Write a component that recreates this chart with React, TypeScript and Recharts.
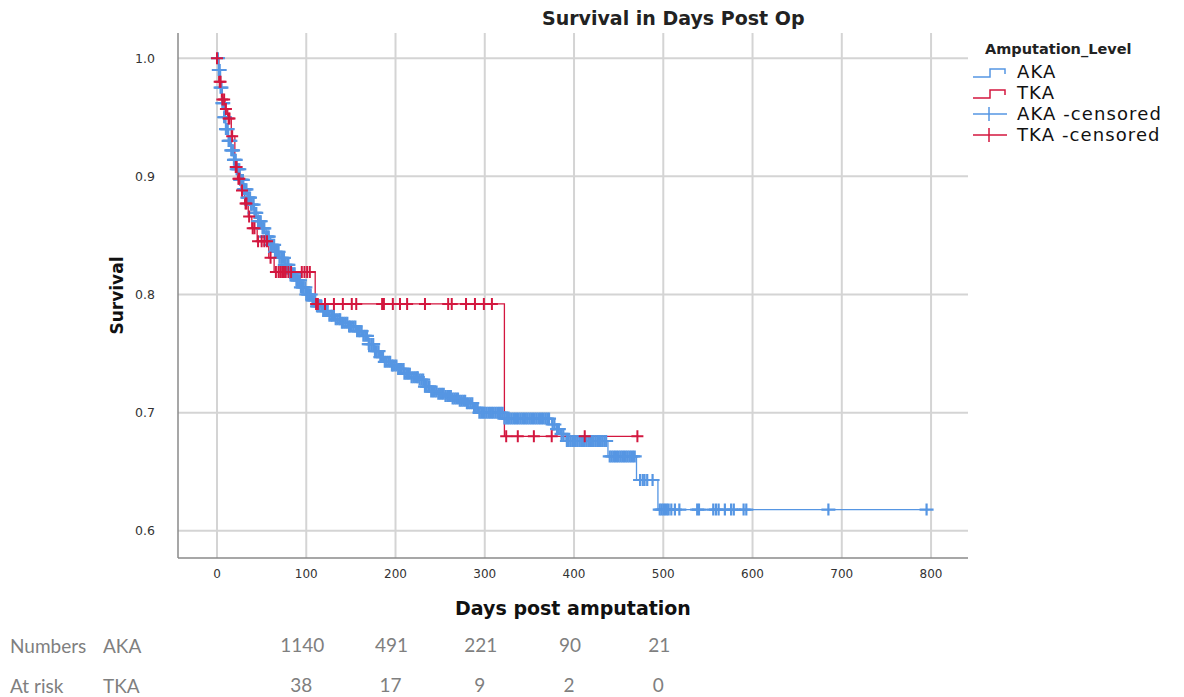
import React from "react";
import {
  ComposedChart,
  Line,
  ReferenceLine,
  Scatter,
  XAxis,
  YAxis,
} from "recharts";

// Kaplan-Meier step points
const AKA_TIMES = [
  0, 2, 4, 6, 8, 10, 13, 16, 19, 22, 26, 30, 34, 38, 42, 46, 50, 55, 60, 65, 70,
  76, 82, 88, 94, 100, 106, 112, 118, 125, 132, 140, 148, 156, 163, 170, 176,
  182, 188, 195, 202, 210, 218, 226, 233, 240, 248, 256, 264, 272, 280, 287,
  293, 322, 375, 380, 385, 390, 438, 470, 494, 798,
];
const AKA_SURVIVAL = [
  1.0, 0.99, 0.975, 0.962, 0.95, 0.94, 0.93, 0.922, 0.914, 0.906, 0.897, 0.889,
  0.882, 0.876, 0.869, 0.862, 0.856, 0.849, 0.842, 0.836, 0.831, 0.825, 0.818,
  0.812, 0.806, 0.8, 0.795, 0.79, 0.786, 0.782, 0.779, 0.776, 0.773, 0.769,
  0.765, 0.758, 0.752, 0.747, 0.743, 0.74, 0.737, 0.733, 0.73, 0.728, 0.722,
  0.718, 0.716, 0.714, 0.712, 0.71, 0.708, 0.704, 0.7, 0.695, 0.69, 0.686,
  0.682, 0.676, 0.663, 0.643, 0.618, 0.618,
];
const TKA_TIMES = [0, 2, 5, 9, 12, 16, 20, 23, 27, 31, 35, 39, 45, 58, 64, 110, 322, 472];
const TKA_SURVIVAL = [
  1.0, 0.98, 0.965, 0.957, 0.949, 0.934, 0.908, 0.898, 0.888, 0.877, 0.866,
  0.856, 0.845, 0.831, 0.819, 0.792, 0.68, 0.68,
];

// censoring times
const AKA_CENSORED = [
  1, 2, 3, 4, 5, 6, 7, 8, 9, 10, 11, 12, 13, 14, 15, 16, 17, 18, 19, 20, 21, 22,
  23, 24, 25, 26, 27, 28, 29, 30, 31, 32, 33, 34, 35, 36, 37, 38, 39, 41, 42,
  43, 44, 46, 47, 48, 49, 51, 52, 53, 55, 56, 57, 58, 60, 61, 62, 64, 65, 66,
  68, 69, 70, 72, 73, 75, 76, 77, 79, 80, 82, 83, 84, 86, 87, 89, 90, 91, 93,
  94, 96, 97, 99, 100, 102, 103, 105, 107, 108, 110, 112, 113, 115, 117, 119,
  120, 122, 124, 126, 128, 129, 131, 133, 135, 137, 138, 140, 142, 144, 146,
  148, 149, 151, 153, 155, 157, 159, 160, 162, 164, 166, 168, 170, 171, 173,
  175, 177, 179, 181, 183, 184, 186, 188, 190, 192, 194, 196, 197, 199, 201,
  203, 205, 207, 209, 210, 212, 214, 216, 218, 220, 222, 224, 225, 227, 229,
  231, 233, 235, 237, 238, 240, 242, 244, 246, 248, 250, 252, 254, 256, 258,
  260, 262, 264, 266, 268, 270, 272, 274, 276, 278, 280, 282, 284, 286, 288,
  290, 292, 294, 296, 298, 300, 302, 304, 306, 308, 310, 312, 314, 316, 318,
  320, 322, 324, 326, 328, 330, 332, 334, 336, 338, 340, 342, 344, 346, 348,
  350, 352, 354, 356, 358, 360, 362, 364, 366, 368, 370, 372, 376, 378, 381,
  383, 386, 388, 392, 394, 396, 398, 400, 402, 404, 406, 408, 410, 412, 414,
  416, 418, 420, 422, 424, 426, 428, 430, 432, 434, 436, 440, 442, 444, 446,
  448, 450, 452, 454, 456, 458, 460, 462, 464, 466, 468, 474, 477, 479, 482,
  488, 496, 498, 500, 502, 504, 506, 509, 513, 518, 538, 540, 556, 559, 562,
  569, 576, 579, 590, 593, 685, 795,
];
const TKA_CENSORED = [
  0, 3, 4, 6, 8, 10, 13, 14, 17, 21, 22, 24, 25, 28, 32, 33, 36, 40, 42, 46,
  50, 53, 56, 60, 66, 69, 71, 73, 75, 77, 80, 83, 95, 98, 101, 104, 111, 113,
  121, 131, 141, 151, 156, 185, 187, 197, 205, 213, 233, 259, 263, 279, 289,
  299, 308, 324, 337, 355, 375, 412, 471,
];

const X_TICKS = [0, 100, 200, 300, 400, 500, 600, 700, 800];
const Y_TICKS = [0.6, 0.7, 0.8, 0.9, 1.0];
const RISK_TICKS = [100, 200, 300, 400, 500];
const AKA_AT_RISK = [1140, 491, 221, 90, 21];
const TKA_AT_RISK = [38, 17, 9, 2, 0];

const AKA_COLOR = "#5696e3";
const TKA_COLOR = "#d3173f";
const X_DOMAIN = [-43.7, 841.4];

const stepAt = (times: number[], surv: number[], t: number) => {
  let v = surv[0];
  for (let i = 0; i < times.length; i++) if (times[i] <= t) v = surv[i];
  return v;
};

const akaCurve = AKA_TIMES.map((t, i) => ({ t, s: AKA_SURVIVAL[i] }));
const tkaCurve = TKA_TIMES.map((t, i) => ({ t, s: TKA_SURVIVAL[i] }));
const akaCensored = AKA_CENSORED.map((t) => ({ t, s: stepAt(AKA_TIMES, AKA_SURVIVAL, t) }));
const tkaCensored = TKA_CENSORED.map((t) => ({ t, s: stepAt(TKA_TIMES, TKA_SURVIVAL, t) }));
// anchors so the at-risk rows (extra x axes) get a scale
const riskAnchors = RISK_TICKS.map((t) => ({ t, s: 0.6 }));

const plusShape = (color: string, arm: number, width: number) => (props: any) => {
  const { cx, cy } = props;
  return (
    <path
      d={`M${cx - arm},${cy}h${arm * 2}M${cx},${cy - 6}v12`}
      stroke={color}
      strokeWidth={width}
      fill="none"
    />
  );
};

const riskLabel = (counts: number[]) => (v: number) => {
  const i = RISK_TICKS.indexOf(v);
  return i >= 0 ? String(counts[i]) : "";
};

const riskTick = { fill: "#7f7f7f", fontSize: 19, fontFamily: "Lato" };
const gridStroke = "#d4d4d4";

function LegendIcon({ color, kind }: { color: string; kind: "step" | "cross" }) {
  return (
    <svg width={36} height={20} style={{ display: "block" }}>
      {kind === "step" ? (
        <path d="M1,15H18V7H33V12" stroke={color} strokeWidth={1.5} fill="none" />
      ) : (
        <path d="M1,10H35M17,3V17" stroke={color} strokeWidth={1.5} fill="none" />
      )}
    </svg>
  );
}

export default function App() {
  const legendItems = [
    { label: "AKA", color: AKA_COLOR, kind: "step" as const },
    { label: "TKA", color: TKA_COLOR, kind: "step" as const },
    { label: "AKA -censored", color: AKA_COLOR, kind: "cross" as const },
    { label: "TKA -censored", color: TKA_COLOR, kind: "cross" as const },
  ];

  return (
    <div
      style={{
        position: "absolute",
        left: 0,
        top: 0,
        width: 1184,
        height: 697,
        background: "#fff",
        fontFamily: "DejaVu Sans",
      }}
    >
      <div
        style={{
          position: "absolute",
          left: 542,
          top: 7,
          fontSize: 19,
          fontWeight: "bold",
          color: "#222",
          whiteSpace: "nowrap",
        }}
      >
        Survival in Days Post Op
      </div>

      <ComposedChart
        width={1184}
        height={697}
        margin={{ top: 33, right: 216, bottom: 0, left: 0 }}
      >
        <XAxis
          dataKey="t"
          type="number"
          domain={X_DOMAIN}
          allowDataOverflow
          ticks={X_TICKS}
          height={70}
          tickSize={0}
          tickMargin={11}
          axisLine={{ stroke: "#8a8a8a", strokeWidth: 1.5 }}
          tick={{ fill: "#333", fontSize: 12, fontFamily: "DejaVu Sans" }}
          label={(p: any) => {
            const vb = p.viewBox;
            return (
              <text
                x={vb.x + vb.width / 2}
                y={vb.y + 57}
                textAnchor="middle"
                fontSize={19}
                fontWeight="bold"
                fontFamily="DejaVu Sans"
                fill="#111"
              >
                Days post amputation
              </text>
            );
          }}
        />
        <XAxis
          xAxisId="aka"
          dataKey="t"
          type="number"
          domain={X_DOMAIN}
          allowDataOverflow
          ticks={RISK_TICKS}
          height={38}
          tickSize={0}
          tickMargin={11}
          axisLine={false}
          tickLine={false}
          tickFormatter={riskLabel(AKA_AT_RISK)}
          tick={{ ...riskTick, dx: -4 }}
        />
        <XAxis
          xAxisId="tka"
          dataKey="t"
          type="number"
          domain={X_DOMAIN}
          allowDataOverflow
          ticks={RISK_TICKS}
          height={31}
          tickSize={0}
          tickMargin={13}
          axisLine={false}
          tickLine={false}
          tickFormatter={riskLabel(TKA_AT_RISK)}
          tick={{ ...riskTick, dx: -5 }}
        />
        <YAxis
          dataKey="s"
          type="number"
          domain={[0.577, 1.0213]}
          allowDataOverflow
          ticks={Y_TICKS}
          width={178}
          tickSize={0}
          tickMargin={23}
          axisLine={{ stroke: "#8a8a8a", strokeWidth: 1.5 }}
          tickFormatter={(v: number) => v.toFixed(1)}
          tick={{ fill: "#333", fontSize: 12.5, fontFamily: "DejaVu Sans" }}
          label={(p: any) => {
            const vb = p.viewBox;
            const cy = vb.y + vb.height / 2;
            return (
              <text
                x={117}
                y={cy}
                transform={`rotate(-90 117 ${cy})`}
                textAnchor="middle"
                dominantBaseline="central"
                fontSize={17}
                fontWeight="bold"
                fontFamily="DejaVu Sans"
                fill="#111"
              >
                Survival
              </text>
            );
          }}
        />

        {X_TICKS.map((x) => (
          <ReferenceLine key={`vx${x}`} x={x} stroke={gridStroke} strokeWidth={2} />
        ))}
        {Y_TICKS.map((y) => (
          <ReferenceLine key={`hy${y}`} y={y} stroke={gridStroke} strokeWidth={2} />
        ))}

        <Line
          xAxisId="aka"
          data={riskAnchors}
          dataKey="s"
          stroke="none"
          dot={false}
          activeDot={false}
          legendType="none"
          isAnimationActive={false}
        />
        <Line
          xAxisId="tka"
          data={riskAnchors}
          dataKey="s"
          stroke="none"
          dot={false}
          activeDot={false}
          legendType="none"
          isAnimationActive={false}
        />

        <Line
          data={akaCurve}
          dataKey="s"
          type="stepAfter"
          stroke={AKA_COLOR}
          strokeWidth={1.3}
          dot={false}
          activeDot={false}
          isAnimationActive={false}
        />
        <Scatter
          data={akaCensored}
          dataKey="s"
          shape={plusShape(AKA_COLOR, 7, 2.2)}
          isAnimationActive={false}
        />
        <Line
          data={tkaCurve}
          dataKey="s"
          type="stepAfter"
          stroke={TKA_COLOR}
          strokeWidth={1.3}
          dot={false}
          activeDot={false}
          isAnimationActive={false}
        />
        <Scatter
          data={tkaCensored}
          dataKey="s"
          shape={plusShape(TKA_COLOR, 6, 2)}
          isAnimationActive={false}
        />
      </ComposedChart>

      <div style={{ position: "absolute", left: 985, top: 41, fontSize: 14.5, fontWeight: "bold", color: "#222", whiteSpace: "nowrap" }}>
        Amputation_Level
      </div>
      <div style={{ position: "absolute", left: 972, top: 61 }}>
        {legendItems.map((it) => (
          <div key={it.label} style={{ display: "flex", alignItems: "center", height: 21 }}>
            <LegendIcon color={it.color} kind={it.kind} />
            <span
              style={{
                marginLeft: 9,
                fontSize: 18,
                letterSpacing: 1.1,
                color: "#111",
                lineHeight: "21px",
                whiteSpace: "nowrap",
              }}
            >
              {it.label}
            </span>
          </div>
        ))}
      </div>

      <div style={{ position: "absolute", left: 10, top: 634, fontFamily: "Lato", fontSize: 19, color: "#7f7f7f", lineHeight: "24px" }}>
        <div style={{ display: "flex" }}>
          <span style={{ width: 93 }}>Numbers</span>
          <span>AKA</span>
        </div>
        <div style={{ display: "flex", marginTop: 16 }}>
          <span style={{ width: 93 }}>At risk</span>
          <span>TKA</span>
        </div>
      </div>
    </div>
  );
}
